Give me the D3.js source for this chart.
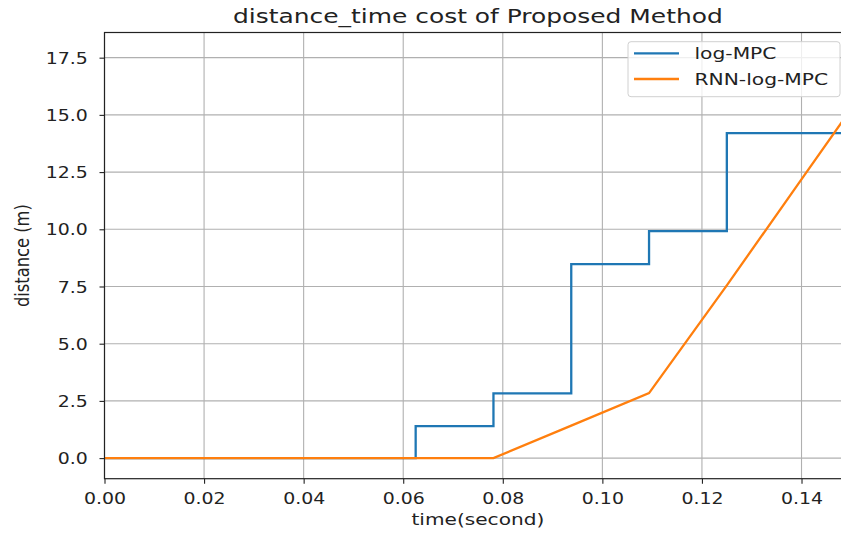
<!DOCTYPE html>
<html lang="en">
<head>
<meta charset="UTF-8">
<title>distance_time cost</title>
<script src="https://d3js.org/d3.v7.min.js"></script>
<style>
  body { margin: 0; background: #fff; }
  text { font-family: "DejaVu Sans", sans-serif; fill: #222; }
</style>
</head>
<body>
<div id="chart"></div>
<script>
// time samples (second)
const times = [0, 0.015625, 0.03125, 0.046875, 0.0625, 0.078125, 0.09375, 0.109375, 0.125, 0.140625, 0.15625];
// log-MPC distance (m), drawn as steps
const logMpc = [0, 0, 0, 0, 1.4, 2.83, 8.48, 9.92, 14.2, 14.2, 14.2];
// RNN-log-MPC distance (m)
const rnnLogMpc = [0, 0, 0, 0, 0, 0, 1.42, 2.84, 7.55, 12.38, 17.2];

const xTicks = [0, 0.02, 0.04, 0.06, 0.08, 0.10, 0.12, 0.14];
const yTicks = [0, 2.5, 5, 7.5, 10, 12.5, 15, 17.5];
const seriesNames = ["log-MPC", "RNN-log-MPC"];
const colors = ["#1f77b4", "#ff7f0e"];

const W = 841, H = 536;
const pLeft = 104.5, pTop = 32.5, pRight = 851.3, pBottom = 478.7;
const SX = 1.22; // the picture is a bit wider than tall

const svg = d3.select("#chart").append("svg")
  .attr("width", W).attr("height", H);

const x = d3.scaleLinear().domain([0, 0.15]).range([pLeft, pRight]);
const y = d3.scaleLinear().domain([-0.9, 18.6]).range([pBottom, pTop]);

svg.append("defs").append("clipPath").attr("id", "clip")
  .append("rect").attr("x", pLeft).attr("y", pTop)
  .attr("width", pRight - pLeft).attr("height", pBottom - pTop);

// grid
const grid = svg.append("g").attr("stroke", "#b0b0b0").attr("stroke-width", 1.1);
grid.selectAll(".gx").data(xTicks).join("line")
  .attr("x1", d => x(d)).attr("x2", d => x(d))
  .attr("y1", pTop).attr("y2", pBottom);
grid.selectAll(".gy").data(yTicks).join("line")
  .attr("x1", pLeft).attr("x2", pRight)
  .attr("y1", d => y(d)).attr("y2", d => y(d));

// lines
const pts = vals => times.map((t, i) => [t, vals[i]]);
const plot = svg.append("g").attr("clip-path", "url(#clip)");
plot.append("path")
  .attr("d", d3.line().x(d => x(d[0])).y(d => y(d[1])).curve(d3.curveStepAfter)(pts(logMpc)))
  .attr("fill", "none").attr("stroke", colors[0]).attr("stroke-width", 2.3);
plot.append("path")
  .attr("d", d3.line().x(d => x(d[0])).y(d => y(d[1]))(pts(rnnLogMpc)))
  .attr("fill", "none").attr("stroke", colors[1]).attr("stroke-width", 2.3);

// axes
const xAxis = svg.append("g").attr("transform", `translate(0,${pBottom})`)
  .call(d3.axisBottom(x).tickValues(xTicks).tickFormat(d3.format(".2f")).tickSize(5).tickSizeOuter(0));
xAxis.selectAll(".tick text")
  .attr("y", 25.3).attr("dy", null)
  .attr("transform", `scale(${SX},1)`)
  .style("font-size", "15.5px");

const yAxis = svg.append("g").attr("transform", `translate(${pLeft},0)`)
  .call(d3.axisLeft(y).tickValues(yTicks).tickFormat(d3.format(".1f")).tickSize(5).tickSizeOuter(0));
yAxis.selectAll(".tick text")
  .attr("x", -16.8 / SX).attr("dy", "0.36em")
  .attr("transform", `scale(${SX},1)`)
  .style("font-size", "15.5px");

svg.selectAll(".domain").remove();
svg.selectAll(".tick line").attr("stroke", "#222").attr("stroke-width", 1.1);

// spines
svg.append("rect").attr("x", pLeft).attr("y", pTop)
  .attr("width", pRight - pLeft).attr("height", pBottom - pTop)
  .attr("fill", "none").attr("stroke", "#222").attr("stroke-width", 1.2);

// labels
svg.append("text")
  .attr("transform", `translate(${(pLeft + pRight) / 2},23) scale(1.24,1)`)
  .attr("text-anchor", "middle").style("font-size", "20.1px")
  .text("distance_time cost of Proposed Method");
svg.append("text")
  .attr("transform", `translate(${(pLeft + pRight) / 2},525) scale(${SX},1)`)
  .attr("text-anchor", "middle").style("font-size", "16.5px")
  .text("time(second)");
svg.append("text")
  .attr("transform", `translate(29,${(pTop + pBottom) / 2}) rotate(-90) scale(1,${SX})`)
  .attr("text-anchor", "middle").style("font-size", "16.3px")
  .text("distance (m)");

// legend
const lg = svg.append("g");
lg.append("rect").attr("x", 628).attr("y", 41.7).attr("width", 212).attr("height", 55)
  .attr("rx", 3).attr("fill", "#fff").attr("fill-opacity", 0.8)
  .attr("stroke", "#d0d0d0").attr("stroke-width", 1);
const items = lg.selectAll(".item").data(seriesNames).join("g")
  .attr("transform", (d, i) => `translate(0,${53.3 + i * 25.7})`);
items.append("line").attr("x1", 634).attr("x2", 679)
  .attr("stroke", (d, i) => colors[i]).attr("stroke-width", 2.3);
items.append("text")
  .attr("transform", `translate(694.5,6) scale(${SX},1)`)
  .style("font-size", "16.6px")
  .text(d => d);
</script>
</body>
</html>
